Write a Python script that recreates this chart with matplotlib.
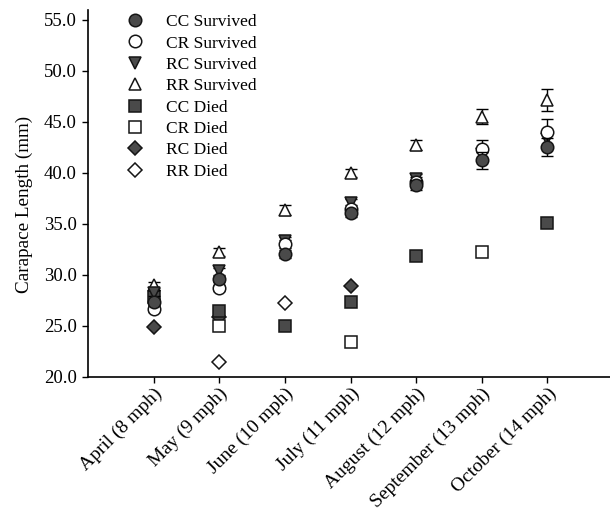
import numpy as np
import matplotlib
matplotlib.use('Agg')
import matplotlib.pyplot as plt

plt.rcParams['font.family'] = ['Liberation Serif', 'DejaVu Serif']

months = ['April (8 mph)', 'May (9 mph)', 'June (10 mph)', 'July (11 mph)',
          'August (12 mph)', 'September (13 mph)', 'October (14 mph)']
nan = np.nan

# survived groups (mean, SE)
cc_surv = [27.3, 29.6, 32.0, 36.0, 38.8, 41.2, 42.5]
cc_surv_se = [0.3, 0.3, 0.4, 0.4, 0.5, 0.8, 0.9]
cr_surv = [26.6, 28.7, 33.0, 36.4, 39.1, 42.3, 44.0]
cr_surv_se = [0.3, 0.3, 0.4, 0.4, 0.5, 0.9, 1.3]
rc_surv = [28.2, 30.3, 33.3, 37.0, 39.4, 41.8, 43.3]
rc_surv_se = [0.3, 0.3, 0.4, 0.4, 0.5, 0.6, 0.8]
rr_surv = [29.0, 32.2, 36.3, 40.0, 42.7, 45.5, 47.1]
rr_surv_se = [0.3, 0.4, 0.5, 0.4, 0.5, 0.7, 1.1]

# died groups
cc_died = [27.8, 26.4, 25.0, 27.3, 31.8, nan, 35.1]
cr_died = [nan, 25.0, nan, 23.4, nan, 32.2, nan]
rc_died = [24.9, 25.8, nan, 28.9, nan, nan, nan]
rr_died = [nan, 21.4, 27.2, nan, nan, nan, nan]

x = np.arange(1, len(months) + 1)
gray = '#4a4a4a'
edge = '#151515'

series = [
    ('CC Survived', cc_surv, cc_surv_se, 'o', gray),
    ('CR Survived', cr_surv, cr_surv_se, 'o', 'white'),
    ('RC Survived', rc_surv, rc_surv_se, 'v', gray),
    ('RR Survived', rr_surv, rr_surv_se, '^', 'white'),
    ('CC Died', cc_died, None, 's', gray),
    ('CR Died', cr_died, None, 's', 'white'),
    ('RC Died', rc_died, None, 'D', gray),
    ('RR Died', rr_died, None, 'D', 'white'),
]

fig = plt.figure(figsize=(6.1, 5.14), dpi=100)
ax = fig.add_axes([88 / 610, 137.5 / 514, (613 - 88) / 610, (377 - 10) / 514])

handles = []
n = len(series)
for i, (name, vals, se, mk, fc) in enumerate(series):
    z = 3 + (n - i)
    ms = 7.5 if mk == 'D' else 9
    if se is not None:
        ax.errorbar(x, vals, yerr=se, fmt='none', ecolor='black',
                    elinewidth=1.0, capsize=4.5, capthick=1.0, zorder=z - 0.5)
    h, = ax.plot(x, vals, linestyle='none', marker=mk, markersize=ms,
                 markerfacecolor=fc, markeredgecolor=edge,
                 markeredgewidth=1.1, zorder=z, label=name)
    handles.append(h)

ax.set_xlim(0, 8)
ax.set_ylim(20, 56)
ax.set_yticks(np.arange(20, 56, 5))
ax.set_yticklabels(['%.1f' % v for v in np.arange(20, 56, 5)], fontsize=13.5)
ax.set_xticks(x)
ax.set_xticklabels(months, rotation=45, ha='right', rotation_mode='anchor',
                   fontsize=14)
ax.tick_params(axis='both', direction='out', length=4, width=1.0, pad=4)
ax.tick_params(axis='x', pad=2)
ax.set_ylabel('Carapace Length (mm)', fontsize=13.8)
ax.yaxis.set_label_coords(-0.105, 0.47)
for s in ['top', 'right']:
    ax.spines[s].set_visible(False)
for s in ['left', 'bottom']:
    ax.spines[s].set_linewidth(1.2)

fig.legend(handles=handles, loc='upper left',
           bbox_to_anchor=(126 / 610, 1 - 14 / 514), frameon=False,
           fontsize=12.5, handlelength=1.0, handletextpad=1.3,
           labelspacing=0.3, borderpad=0, borderaxespad=0)

fig.savefig('out.png', dpi=100)
